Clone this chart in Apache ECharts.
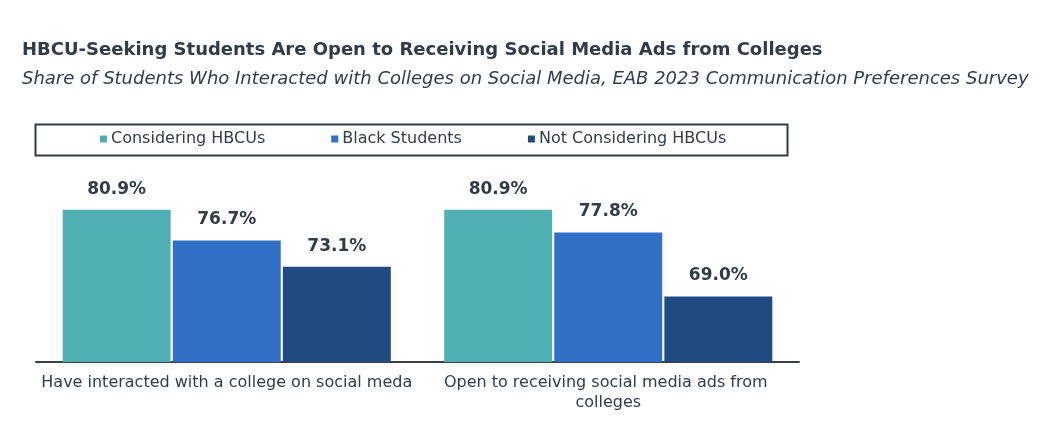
<!DOCTYPE html>
<html>
<head>
<meta charset="utf-8">
<script src="https://cdn.jsdelivr.net/npm/echarts@6/dist/echarts.min.js"></script>
<style>
  html, body { margin: 0; padding: 0; background: #fff; }
  #chart { width: 1052px; height: 438px; }
</style>
</head>
<body>
<div id="chart"></div>
<script>
var categories = ['Have interacted with a college on social meda', 'Open to receiving social media ads from colleges'];
var seriesNames = ['Considering HBCUs', 'Black Students', 'Not Considering HBCUs'];
var consideringHBCUs = [80.9, 80.9];
var blackStudents = [76.7, 77.8];
var notConsideringHBCUs = [73.1, 69.0];

var colors = ['#4FAFB2', '#3070C6', '#1F4A82'];
var textColor = '#333B47';
var fontFamily = 'DejaVu Sans, Verdana, sans-serif';

var chart = echarts.init(document.getElementById('chart'));

var makeSeries = function (name, data, color) {
    return {
        name: name,
        type: 'bar',
        data: data,
        barGap: '2%',
        barCategoryGap: '14%',
        itemStyle: { color: color },
        label: {
            show: true,
            position: 'top',
            distance: 12,
            color: textColor,
            fontFamily: fontFamily,
            fontWeight: 'bold',
            fontSize: 17,
            formatter: function (p) { return p.value.toFixed(1) + '%'; }
        }
    };
};

var option = {
    animation: false,
    color: colors,
    title: {
        text: 'HBCU-Seeking Students Are Open to Receiving Social Media Ads from Colleges',
        subtext: 'Share of Students Who Interacted with Colleges on Social Media, EAB 2023 Communication Preferences Survey',
        left: 17,
        top: 36,
        itemGap: 11,
        textStyle: {
            color: textColor,
            fontFamily: fontFamily,
            fontWeight: 'bold',
            fontSize: 18
        },
        subtextStyle: {
            color: textColor,
            fontFamily: fontFamily,
            fontStyle: 'italic',
            fontSize: 18
        }
    },
    legend: {
        data: seriesNames,
        left: 95,
        top: 126,
        itemWidth: 7,
        itemHeight: 7,
        itemGap: 66,
        icon: 'rect',
        textStyle: {
            color: textColor,
            fontFamily: fontFamily,
            fontSize: 16,
            padding: [0, 0, 0, -1]
        }
    },
    graphic: [{
        type: 'rect',
        left: 33,
        top: 122,
        shape: { width: 752, height: 31 },
        style: { fill: 'none', stroke: '#333B47', lineWidth: 2 },
        silent: true
    }],
    grid: {
        left: 36,
        right: 253,
        top: 180,
        bottom: 76
    },
    xAxis: {
        type: 'category',
        data: categories,
        axisLine: { lineStyle: { color: '#3A4049', width: 2 } },
        axisTick: { show: false },
        axisLabel: {
            color: textColor,
            fontFamily: fontFamily,
            fontSize: 16,
            margin: 11,
            lineHeight: 20,
            width: 385,
            overflow: 'break',
            interval: 0
        }
    },
    yAxis: {
        type: 'value',
        min: 60,
        max: 85,
        show: false,
        splitLine: { show: false }
    },
    series: [
        makeSeries(seriesNames[0], consideringHBCUs, colors[0]),
        makeSeries(seriesNames[1], blackStudents, colors[1]),
        makeSeries(seriesNames[2], notConsideringHBCUs, colors[2])
    ]
};

chart.setOption(option);
</script>
</body>
</html>
